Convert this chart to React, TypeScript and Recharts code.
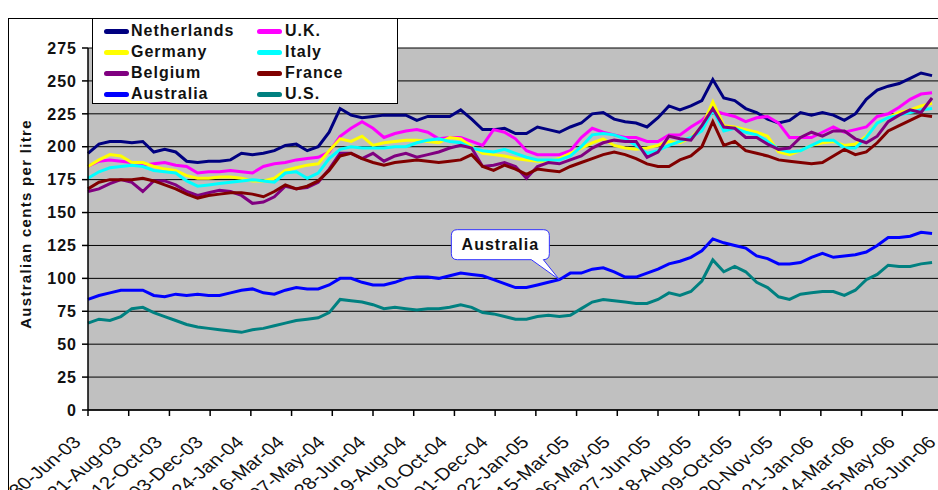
import { CartesianGrid, Line, LineChart, ReferenceDot, XAxis, YAxis } from "recharts";

// days since 30-Jun-03, one reading every two weeks
const days = [
  0, 14, 28, 42, 56, 70, 84, 98, 112, 126, 140, 154, 168, 182, 196, 210, 224, 238, 252, 266,
  280, 294, 308, 322, 336, 350, 364, 378, 392, 406, 420, 434, 448, 462, 476, 490, 504, 518, 532, 546,
  560, 574, 588, 602, 616, 630, 644, 658, 672, 686, 700, 714, 728, 742, 756, 770, 784, 798, 812, 826,
  840, 854, 868, 882, 896, 910, 924, 938, 952, 966, 980, 994, 1008, 1022, 1036, 1050, 1064, 1078
];

const tickDays = [0, 52, 104, 156, 208, 260, 312, 364, 416, 468, 520, 572, 624, 676, 728, 780, 832, 884, 936, 988, 1040, 1092];
const tickLabels = [
  "30-Jun-03", "21-Aug-03", "12-Oct-03", "03-Dec-03", "24-Jan-04", "16-Mar-04", "07-May-04", "28-Jun-04",
  "19-Aug-04", "10-Oct-04", "01-Dec-04", "22-Jan-05", "15-Mar-05", "06-May-05", "27-Jun-05", "18-Aug-05",
  "09-Oct-05", "30-Nov-05", "21-Jan-06", "14-Mar-06", "05-May-06", "26-Jun-06"
];
const yTicks = [0, 25, 50, 75, 100, 125, 150, 175, 200, 225, 250, 275];

const netherlands = [
  195, 202, 204, 204, 203, 204, 196, 198, 196, 189, 188, 189, 189, 190, 195, 194, 195, 197, 201, 202,
  197, 200, 211, 229, 224, 222, 223, 224, 224, 224, 220, 223, 223, 223, 228, 221, 213, 213, 214, 210,
  210, 215, 213, 211, 215, 218, 225, 226, 221, 219, 218, 215, 222, 231, 228, 231, 235, 251, 237, 235,
  229, 226, 221, 218, 220, 226, 224, 226, 224, 220, 225, 236, 243, 246, 248, 252, 256, 254
];
const uk = [
  185, 189, 190, 189, 188, 186, 187, 188, 186, 185, 180, 181, 181, 182, 181, 180, 185, 187, 188, 190,
  191, 192, 196, 208, 214, 219, 214, 207, 210, 212, 213, 211, 206, 207, 207, 204, 201, 213, 211, 206,
  197, 194, 194, 194, 197, 207, 214, 211, 209, 207, 207, 204, 204, 209, 209, 215, 220, 228, 225, 223,
  219, 222, 223, 218, 207, 207, 207, 211, 215, 211, 213, 215, 223, 225, 230, 236, 240, 241
];
const germany = [
  185, 190, 194, 193, 188, 188, 185, 183, 182, 178, 176, 176, 177, 177, 176, 174, 174, 176, 182, 184,
  186, 187, 197, 206, 204, 208, 201, 203, 204, 205, 205, 204, 203, 207, 206, 200, 195, 194, 193, 191,
  190, 189, 189, 191, 195, 199, 203, 206, 201, 199, 198, 199, 201, 204, 203, 207, 215, 234, 216, 215,
  213, 211, 208, 196, 194, 197, 201, 203, 204, 201, 202, 208, 218, 222, 226, 228, 231, 233
];
const italy = [
  176, 181, 184, 185, 186, 185, 182, 181, 180, 174, 170, 171, 172, 173, 174, 175, 174, 173, 180, 181,
  176, 180, 191, 198, 200, 199, 199, 199, 200, 200, 203, 205, 206, 204, 203, 199, 197, 196, 198, 195,
  192, 190, 190, 190, 193, 200, 209, 210, 209, 206, 201, 195, 197, 201, 204, 207, 212, 228, 212, 214,
  211, 209, 204, 198, 196, 197, 201, 205, 205, 199, 199, 207, 218, 222, 224, 226, 228, 229
];
const belgium = [
  166, 168, 172, 175, 173, 166, 174, 174, 171, 166, 163, 165, 167, 166, 163, 157, 158, 162, 170, 168,
  169, 173, 183, 195, 195, 191, 195, 189, 193, 195, 192, 194, 196, 199, 201, 199, 185, 186, 188, 185,
  176, 185, 188, 187, 190, 193, 199, 203, 205, 204, 204, 192, 196, 208, 206, 205, 216, 229, 215, 214,
  207, 207, 202, 198, 199, 207, 211, 208, 212, 212, 206, 203, 208, 219, 224, 228, 226, 237
];
const france = [
  168, 173, 175, 175, 175, 176, 174, 171, 168, 164, 161, 163, 164, 165, 165, 164, 162, 166, 171, 168,
  170, 174, 182, 193, 195, 191, 188, 186, 188, 189, 190, 189, 188, 189, 190, 194, 185, 182, 186, 183,
  179, 183, 182, 181, 185, 188, 191, 194, 196, 194, 191, 187, 185, 185, 190, 193, 200, 219, 201, 204,
  197, 195, 193, 190, 189, 188, 187, 188, 193, 198, 194, 196, 203, 212, 216, 220, 224, 223
];
const australia = [
  84, 87, 89, 91, 91, 91, 87, 86, 88, 87, 88, 87, 87, 89, 91, 92, 89, 88, 91, 93,
  92, 92, 95, 100, 100, 97, 95, 95, 97, 100, 101, 101, 100, 102, 104, 103, 102, 99, 96, 93,
  93, 95, 97, 99, 104, 104, 107, 108, 105, 101, 101, 104, 107, 111, 113, 116, 121, 130, 127, 125,
  123, 117, 115, 111, 111, 112, 116, 119, 116, 117, 118, 120, 125, 131, 131, 132, 135, 134
];
const us = [
  66, 69, 68, 71, 77, 78, 74, 71, 68, 65, 63, 62, 61, 60, 59, 61, 62, 64, 66, 68,
  69, 70, 74, 84, 83, 82, 80, 77, 78, 77, 76, 77, 77, 78, 80, 78, 74, 73, 71, 69,
  69, 71, 72, 71, 72, 77, 82, 84, 83, 82, 81, 81, 84, 89, 87, 90, 98, 114, 105, 109,
  105, 97, 93, 86, 84, 88, 89, 90, 90, 87, 91, 99, 103, 110, 109, 109, 111, 112
];

const series = [
  { key: "netherlands", name: "Netherlands", color: "#000080", values: netherlands },
  { key: "uk", name: "U.K.", color: "#ff00ff", values: uk },
  { key: "germany", name: "Germany", color: "#ffff00", values: germany },
  { key: "italy", name: "Italy", color: "#00ffff", values: italy },
  { key: "belgium", name: "Belgium", color: "#800080", values: belgium },
  { key: "france", name: "France", color: "#800000", values: france },
  { key: "australia", name: "Australia", color: "#0000ff", values: australia },
  { key: "us", name: "U.S.", color: "#008080", values: us }
];

const rows = days.map((day, i) => {
  const row: Record<string, number> = { day };
  series.forEach((s) => (row[s.key] = s.values[i]));
  return row;
});

const calloutIndex = 43;

const font = "'Liberation Sans', Arial, sans-serif";

function XTick({ x, y, payload }: any) {
  const label = tickLabels[tickDays.indexOf(payload.value)];
  return (
    <text
      transform={`translate(${x - 11},${y + 21}) scale(1.2,1) rotate(-45)`}
      textAnchor="end"
      dy="0.35em"
      fontSize={17}
      fill="#111"
      fontFamily={font}
    >
      {label}
    </text>
  );
}

function YTick({ x, y, payload }: any) {
  return (
    <text x={x} y={y} dy="0.36em" textAnchor="end" fontSize={16} fontWeight="bold" letterSpacing={1} fill="#111" fontFamily={font}>
      {payload.value}
    </text>
  );
}

function Callout({ cx, cy }: any) {
  const l = cx - 108;
  const r = cx - 10;
  const t = cy - 50;
  const b = cy - 20;
  const d = `M${l + 6},${t} H${r - 6} Q${r},${t} ${r},${t + 6} V${b - 6} Q${r},${b} ${r - 6},${b} L${cx},${cy} L${r - 18},${b} H${l + 6} Q${l},${b} ${l},${b - 6} V${t + 6} Q${l},${t} ${l + 6},${t} Z`;
  return (
    <g>
      <path d={d} fill="#fff" stroke="#3333ff" strokeWidth={1} />
      <text x={(l + r) / 2} y={(t + b) / 2} dy="0.36em" textAnchor="middle" fontSize={16} fontWeight="bold" letterSpacing={1} fill="#111" fontFamily={font}>
        Australia
      </text>
    </g>
  );
}

function LegendBox() {
  return (
    <div
      style={{
        position: "absolute",
        left: 92,
        top: 18,
        width: 306,
        height: 86,
        boxSizing: "border-box",
        background: "#fff",
        border: "1px solid #000"
      }}
    >
      {series.map((s, i) => {
        const col = i % 2;
        const row = Math.floor(i / 2);
        const cy = 12 + row * 21;
        const lineX = col ? 164 : 11;
        const textX = col ? 192 : 38;
        return (
          <div key={s.key}>
            <div
              style={{
                position: "absolute",
                left: lineX,
                top: cy - 2.5,
                width: 25,
                height: 5,
                borderRadius: 2.5,
                background: s.color
              }}
            />
            <div
              style={{
                position: "absolute",
                left: textX,
                top: cy - 10,
                lineHeight: "20px",
                fontSize: 16,
                fontWeight: "bold",
                letterSpacing: 1,
                color: "#111",
                whiteSpace: "nowrap"
              }}
            >
              {s.name}
            </div>
          </div>
        );
      })}
    </div>
  );
}

export default function App() {
  return (
    <div
      style={{
        position: "fixed",
        left: 0,
        top: 0,
        width: 938,
        height: 490,
        overflow: "hidden",
        background: "#fff",
        fontFamily: font
      }}
    >
      <div style={{ position: "absolute", left: 8, top: 18, width: 1000, height: 600, border: "1px solid #000" }} />
      <div style={{ position: "absolute", left: 0, top: 0 }}>
        <LineChart width={950} height={490} data={rows} margin={{ top: 48, right: 7, bottom: 0, left: 0 }}>
          <CartesianGrid vertical={false} stroke="#000" strokeWidth={1} fill="#c0c0c0" fillOpacity={1} />
          <XAxis
            dataKey="day"
            type="number"
            domain={[0, 1092]}
            ticks={tickDays}
            interval={0}
            height={80}
            tickSize={6}
            tickMargin={2}
            tick={<XTick />}
            axisLine={{ stroke: "#000", strokeWidth: 1.5 }}
            tickLine={{ stroke: "#000", strokeWidth: 1.5 }}
          />
          <YAxis
            type="number"
            domain={[0, 275]}
            ticks={yTicks}
            interval={0}
            width={88}
            tickSize={6}
            tickMargin={5}
            tick={<YTick />}
            axisLine={{ stroke: "#000", strokeWidth: 1.5 }}
            tickLine={{ stroke: "#000", strokeWidth: 1.5 }}
          />
          {series.map((s) => (
            <Line
              key={s.key}
              type="linear"
              dataKey={s.key}
              name={s.name}
              stroke={s.color}
              strokeWidth={3}
              dot={false}
              isAnimationActive={false}
            />
          ))}
          <ReferenceDot
            x={days[calloutIndex]}
            y={australia[calloutIndex]}
            r={0}
            shape={(props: any) => <Callout {...props} />}
          />
        </LineChart>
      </div>
      <div
        style={{
          position: "absolute",
          left: 25,
          top: 224,
          transform: "translate(-50%, -50%) rotate(-90deg)",
          whiteSpace: "nowrap",
          fontSize: 15,
          fontWeight: "bold",
          letterSpacing: 1.3,
          color: "#111"
        }}
      >
        Australian cents per litre
      </div>
      <LegendBox />
    </div>
  );
}
